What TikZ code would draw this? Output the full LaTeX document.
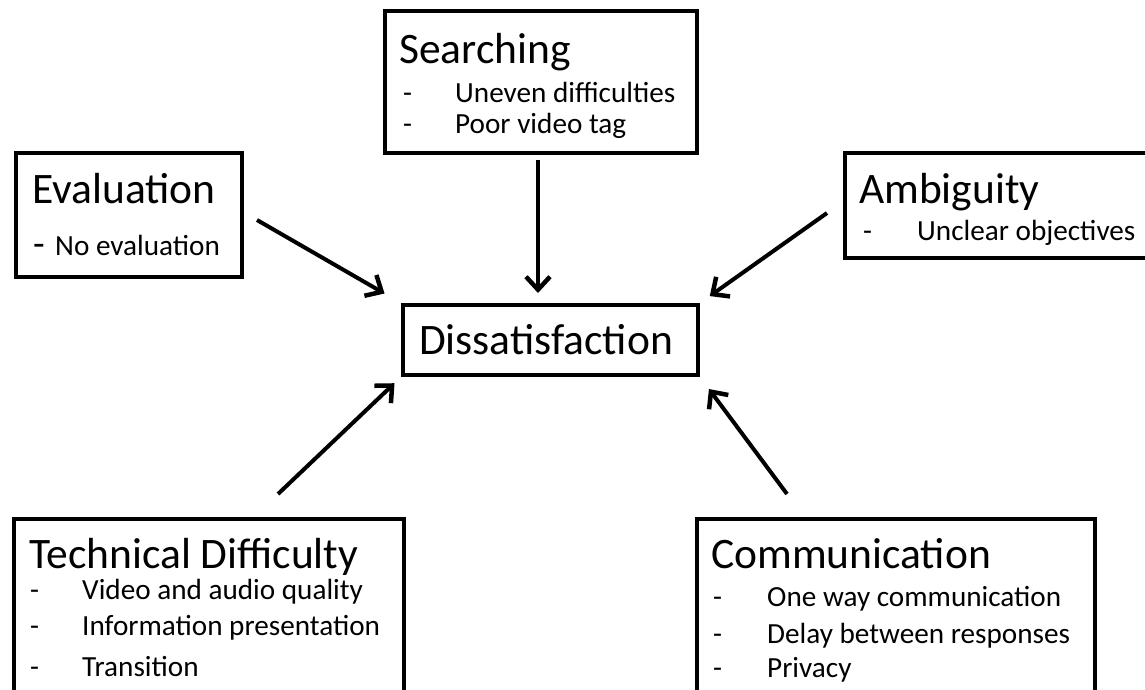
\documentclass[tikz,border=0pt]{standalone}
\usepackage{fontspec}
\setmainfont{Carlito}
\usetikzlibrary{arrows.meta}

\tikzset{
  box/.style={draw=black, line width=4pt, rectangle, inner sep=0pt, anchor=north west},
  head/.style={font=\fontsize{43.5}{50}\selectfont, anchor=base west, inner sep=0pt},
  item/.style={font=\fontsize{29.2}{34}\selectfont, anchor=base west, inner sep=0pt},
  bigdash/.style={font=\fontsize{38}{44}\selectfont, anchor=base west, inner sep=0pt},
  link/.style={line width=4pt, -{Straight Barb[length=13pt, width=24pt, line width=4.5pt]}}
}

\begin{document}
\begin{tikzpicture}[x=1pt, y=-1pt]
\useasboundingbox (0,0) rectangle (1145,689);
\clip (0,0) rectangle (1145,689);

% frames
\node[box, minimum width=312pt, minimum height=142pt] (search) at (383,9) {};
\node[box, minimum width=226pt, minimum height=124pt] (eval) at (14,151) {};
\node[box, minimum width=320pt, minimum height=105pt] (ambig) at (843,151) {};
\node[box, minimum width=295pt, minimum height=70pt] (diss) at (401,303) {};
\node[box, minimum width=390pt, minimum height=220pt] (tech) at (12,517) {};
\node[box, minimum width=398pt, minimum height=220pt] (comm) at (695,517) {};

% Searching
\node[head] (searchT) at (399,63) {Searching};
\node[item] (searchD1) at (403,102) {-};
\node[item] (searchI1) at (455,102) {Uneven difficulties};
\node[item] (searchD2) at (403,133) {-};
\node[item] (searchI2) at (455,133) {Poor video tag};

% Evaluation
\node[head] (evalT) at (32,203) {Evaluation};
\node[bigdash] (evalD1) at (33,256) {-};
\node[item] (evalI1) at (55,255) {No evaluation};

% Ambiguity
\node[head] (ambigT) at (859,203) {Ambiguity};
\node[item] (ambigD1) at (863,240) {-};
\node[item] (ambigI1) at (917,240) {Unclear objectives};

% Dissatisfaction
\node[head] (dissT) at (419,354) {Dissatisfaction};

% Technical Difficulty
\node[head] (techT) at (29,568) {Technical Difficulty};
\node[item] (techD1) at (30,599) {-};
\node[item] (techI1) at (82,599) {Video and audio quality};
\node[item] (techD2) at (30,635) {-};
\node[item] (techI2) at (82,635) {Information presentation};
\node[item] (techD3) at (30,676) {-};
\node[item] (techI3) at (82,676) {Transition};

% Communication
\node[head] (commT) at (711,568) {Communication};
\node[item] (commD1) at (713,606) {-};
\node[item] (commI1) at (767,606) {One way communication};
\node[item] (commD2) at (713,643) {-};
\node[item] (commI2) at (767,643) {Delay between responses};
\node[item] (commD3) at (713,677) {-};
\node[item] (commI3) at (767,677) {Privacy};

% arrow tails
\coordinate (fromEval) at (257,220);
\coordinate (fromSearch) at (538,160);
\coordinate (fromAmbig) at (827,213);
\coordinate (fromTech) at (278,494);
\coordinate (fromComm) at (787,494);

% arrows into Dissatisfaction
\draw[link, shorten >=19pt] (fromEval) -- (diss.north west);
\draw[link, shorten >=10pt] (fromSearch) -- (fromSearch |- diss.north);
\draw[link, shorten >=12pt] (fromAmbig) -- (diss.north east);
\draw[link, shorten >=9pt] (fromTech) -- (diss.south west);
\draw[link, shorten >=15pt] (fromComm) -- (diss.south east);
\end{tikzpicture}
\end{document}
